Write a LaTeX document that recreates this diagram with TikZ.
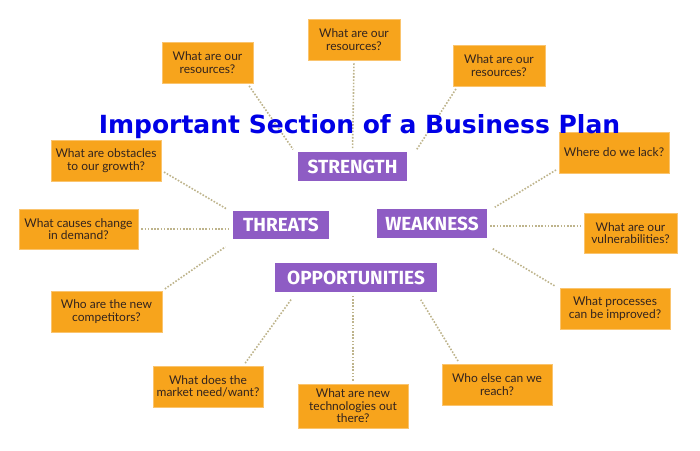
\documentclass[tikz,border=0pt]{standalone}
\usepackage{fontspec}
\setmainfont{Lato}
\newfontfamily\titlefont{DejaVu Sans}
\newfontfamily\headfont{Fira Sans}
\definecolor{qorange}{RGB}{247,164,28}
\definecolor{qborder}{RGB}{250,196,110}
\definecolor{qpurple}{RGB}{142,92,196}
\definecolor{qdots}{RGB}{190,180,140}
\definecolor{qtext}{RGB}{50,35,30}
\definecolor{qtitle}{RGB}{0,0,230}
\begin{document}
\begin{tikzpicture}[x=1pt,y=-1pt,
  qbox/.style={fill=qorange,draw=qborder,line width=0.8pt,inner sep=0pt,align=center,
    text=qtext,font=\fontsize{12}{12.5}\selectfont},
  hbox/.style={fill=qpurple,inner sep=0pt,text=white,font=\headfont\bfseries\fontsize{19}{19}\selectfont},
  link/.style={draw=qdots,line width=1.6pt,dash pattern=on 1.6pt off 1.6pt,shorten <=3pt,shorten >=3pt}]
\useasboundingbox (0,0) rectangle (700,450);
% purple heads
\node[hbox,minimum width=109pt,minimum height=29pt] (str) at (352.5,166.5) {STRENGTH};
\node[hbox,minimum width=96pt,minimum height=28pt] (thr) at (281,225) {THREATS};
\node[hbox,minimum width=110pt,minimum height=29pt] (wea) at (432,223.5) {WEAKNESS};
\node[hbox,minimum width=162pt,minimum height=29pt] (opp) at (356,277.5) {OPPORTUNITIES};
% orange questions
\node[qbox,minimum width=91pt,minimum height=41pt] (b1) at (207.5,62.5) {What are our\\resources?};
\node[qbox,minimum width=92pt,minimum height=41pt] (b2) at (354,39.5) {What are our\\resources?};
\node[qbox,minimum width=92pt,minimum height=41pt] (b3) at (499,65.5) {What are our\\resources?};
\node[qbox,minimum width=110pt,minimum height=41pt] (b4) at (614,152.5) {Where do we lack?};
\node[qbox,minimum width=93pt,minimum height=40pt] (b5) at (630.5,233) {What are our\\vulnerabilities?};
\node[qbox,minimum width=110pt,minimum height=41pt] (b6) at (615,308.5) {What processes\\can be improved?};
\node[qbox,minimum width=110pt,minimum height=41pt] (b7) at (106,160.5) {What are obstacles\\to our growth?};
\node[qbox,minimum width=119pt,minimum height=40pt] (b8) at (78.5,229) {What causes change\\in demand?};
\node[qbox,minimum width=111pt,minimum height=41pt] (b9) at (106.5,311.5) {Who are the new\\competitors?};
\node[qbox,minimum width=110pt,minimum height=41pt] (b10) at (208,386.5) {What does the\\market need/want?};
\node[qbox,minimum width=110pt,minimum height=44pt] (b11) at (353,406) {What are new\\technologies out\\there?};
\node[qbox,minimum width=110pt,minimum height=41pt] (b12) at (497,384.5) {Who else can we\\reach?};
% connectors
\path[link] ([xshift=-6pt]b1.south east) -- ([xshift=-3pt]str.north west);
\path[link] (b2.south) -- (str.north);
\path[link] ([xshift=5pt]b3.south west) -- ([xshift=8pt]str.north east);
\path[link] ([yshift=5pt]b4.south west) -- ([xshift=5pt]wea.north east);
\path[link] ([yshift=-2.5pt]wea.east) -- ([yshift=7pt]b5.west);
\path[link] ([xshift=3pt,yshift=-9pt]wea.south east) -- ([xshift=-2pt]b6.north west);
\path[link] ([yshift=-10pt]b7.east) -- ([xshift=-3pt]thr.north west);
\path[link] (b8.east) -- ([yshift=-4pt]thr.west);
\path[link] (b9.north east) -- ([xshift=-5pt,yshift=-6pt]thr.south west);
\path[link] ([xshift=-20pt]b10.north east) -- ([xshift=18pt,yshift=-5pt]opp.south west);
\path[link] (b11.north) -- ([xshift=-3pt]opp.south);
\path[link] ([xshift=18pt]b12.north west) -- ([xshift=-18pt,yshift=-5pt]opp.south east);
% title
\node[font=\titlefont\bfseries\fontsize{25}{25}\selectfont,text=qtitle,anchor=base,inner sep=0pt] (title) at (359.5,133) {Important Section of a Business Plan};
\end{tikzpicture}
\end{document}
